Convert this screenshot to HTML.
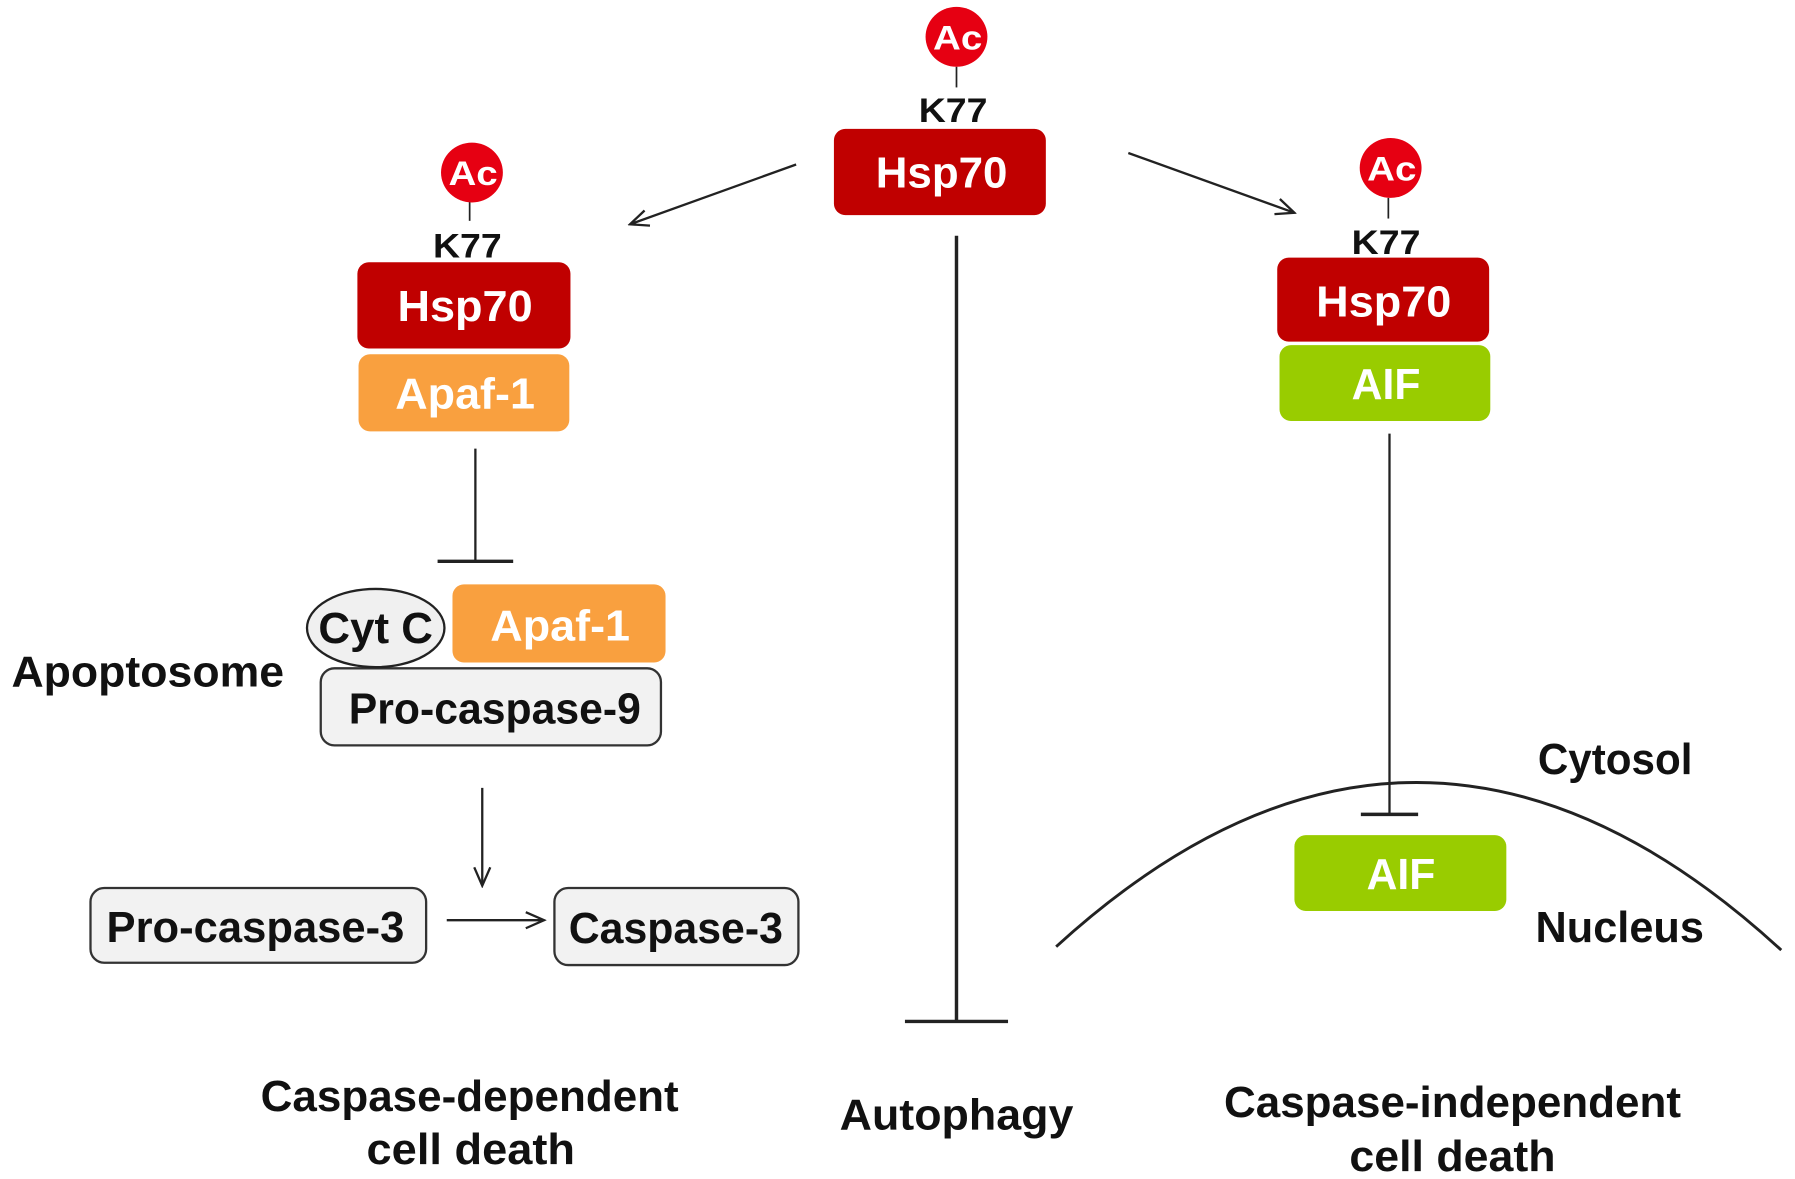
<!DOCTYPE html>
<html><head><meta charset="utf-8"><style>
html,body{margin:0;padding:0;background:#fff;}
svg{display:block;}
text{font-family:"Liberation Sans",sans-serif;font-weight:bold;}
</style></head><body>
<svg width="1795" height="1179" viewBox="0 0 1567 1025" preserveAspectRatio="none">
<defs>
<marker id="ah" markerWidth="20" markerHeight="20" refX="18" refY="10" orient="auto" markerUnits="userSpaceOnUse">
<path d="M2,3 L18,10 L2,17" fill="none" stroke="#222" stroke-width="2"/>
</marker>
</defs>
<g stroke="#222" stroke-width="2" fill="none">
<line x1="695" y1="143" x2="550" y2="195" marker-end="url(#ah)"/>
<line x1="985" y1="133" x2="1130" y2="185" marker-end="url(#ah)"/>
<line x1="415" y1="390" x2="415" y2="488"/>
<line x1="382" y1="488" x2="448" y2="488" stroke-width="3"/>
<line x1="421" y1="685" x2="421" y2="770" marker-end="url(#ah)"/>
<line x1="390" y1="800" x2="475" y2="800" marker-end="url(#ah)"/>
<line x1="835" y1="205" x2="835" y2="888" stroke-width="3"/>
<line x1="790" y1="888" x2="880" y2="888" stroke-width="3"/>
<line x1="1213" y1="377" x2="1213" y2="708"/>
<line x1="1188" y1="708" x2="1238" y2="708" stroke-width="3"/>
<path d="M922,823 Q1238,536 1555,826" stroke-width="2.5"/>
<line x1="835" y1="58" x2="835" y2="76" stroke-width="1.5"/>
<line x1="410" y1="175" x2="410" y2="192" stroke-width="1.5"/>
<line x1="1212" y1="172" x2="1212" y2="190" stroke-width="1.5"/>
</g>
<g fill="#e60012">
<ellipse cx="835" cy="32" rx="27" ry="26"/>
<ellipse cx="412" cy="150" rx="27" ry="26"/>
<ellipse cx="1214" cy="146" rx="27" ry="26"/>
</g>
<g fill="#fff" font-size="30" text-anchor="middle">
<text x="836" y="43" textLength="43" lengthAdjust="spacingAndGlyphs">Ac</text>
<text x="413" y="161" textLength="43" lengthAdjust="spacingAndGlyphs">Ac</text>
<text x="1215" y="157" textLength="43" lengthAdjust="spacingAndGlyphs">Ac</text>
</g>
<g fill="#111" font-size="30" text-anchor="middle">
<text x="832" y="106" textLength="60" lengthAdjust="spacingAndGlyphs">K77</text>
<text x="408" y="224" textLength="60" lengthAdjust="spacingAndGlyphs">K77</text>
<text x="1210" y="221" textLength="60" lengthAdjust="spacingAndGlyphs">K77</text>
</g>
<rect x="728" y="112" width="185" height="75" rx="10" fill="#c00000"/>
<rect x="312" y="228" width="186" height="75" rx="10" fill="#c00000"/>
<rect x="313" y="308" width="184" height="67" rx="10" fill="#f9a03f"/>
<rect x="1115" y="224" width="185" height="73" rx="10" fill="#c00000"/>
<rect x="1117" y="300" width="184" height="66" rx="10" fill="#99cc00"/>
<rect x="1130" y="726" width="185" height="66" rx="10" fill="#99cc00"/>
<rect x="280" y="581" width="297" height="67" rx="12" fill="#f2f2f2" stroke="#333" stroke-width="2"/>
<rect x="395" y="508" width="186" height="68" rx="10" fill="#f9a03f"/>
<ellipse cx="328" cy="546" rx="60" ry="34" fill="#f0f0f0" stroke="#222" stroke-width="2"/>
<rect x="79" y="772" width="293" height="65" rx="12" fill="#f2f2f2" stroke="#333" stroke-width="2"/>
<rect x="484" y="772" width="213" height="67" rx="12" fill="#f2f2f2" stroke="#333" stroke-width="2"/>
<g fill="#fff" font-size="38" text-anchor="middle">
<text x="822" y="163" textLength="115" lengthAdjust="spacingAndGlyphs">Hsp70</text>
<text x="406" y="279" textLength="118" lengthAdjust="spacingAndGlyphs">Hsp70</text>
<text x="406" y="355" textLength="122" lengthAdjust="spacingAndGlyphs">Apaf-1</text>
<text x="1208" y="275" textLength="118" lengthAdjust="spacingAndGlyphs">Hsp70</text>
<text x="1210" y="347" textLength="60" lengthAdjust="spacingAndGlyphs">AIF</text>
<text x="1223" y="773" textLength="60" lengthAdjust="spacingAndGlyphs">AIF</text>
<text x="489" y="557" textLength="122" lengthAdjust="spacingAndGlyphs">Apaf-1</text>
</g>
<g fill="#111" font-size="38" text-anchor="middle">
<text x="328" y="559" textLength="100" lengthAdjust="spacingAndGlyphs">Cyt C</text>
<text x="432" y="629" textLength="255" lengthAdjust="spacingAndGlyphs">Pro-caspase-9</text>
<text x="223" y="819" textLength="260" lengthAdjust="spacingAndGlyphs">Pro-caspase-3</text>
<text x="590" y="820" textLength="187" lengthAdjust="spacingAndGlyphs">Caspase-3</text>
<text x="1410" y="673" textLength="135" lengthAdjust="spacingAndGlyphs">Cytosol</text>
<text x="1414" y="819" textLength="147" lengthAdjust="spacingAndGlyphs">Nucleus</text>
<text x="410" y="966" textLength="365" lengthAdjust="spacingAndGlyphs">Caspase-dependent</text>
<text x="411" y="1012" textLength="182" lengthAdjust="spacingAndGlyphs">cell death</text>
<text x="835" y="982" textLength="204" lengthAdjust="spacingAndGlyphs">Autophagy</text>
<text x="1268" y="971" textLength="399" lengthAdjust="spacingAndGlyphs">Caspase-independent</text>
<text x="1268" y="1018" textLength="180" lengthAdjust="spacingAndGlyphs">cell death</text>
</g>
<text x="10" y="597" font-size="38" fill="#111" textLength="238" lengthAdjust="spacingAndGlyphs">Apoptosome</text>
</svg>
</body></html>
